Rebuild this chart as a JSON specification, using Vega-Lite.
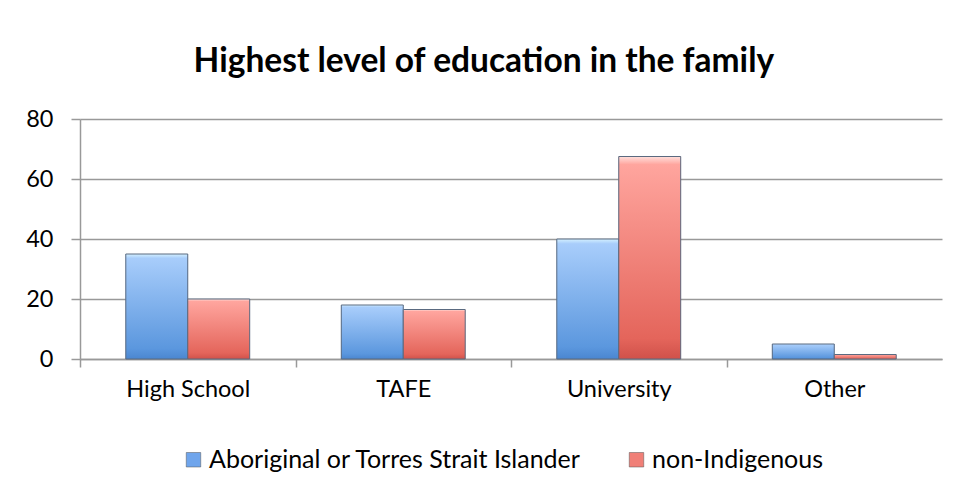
{
  "$schema": "https://vega.github.io/schema/vega-lite/v6.json",
  "width": 862,
  "height": 240,
  "autosize": {"type": "none"},
  "padding": {"left": 80, "top": 119, "right": 22, "bottom": 140},
  "background": "white",
  "title": {
    "text": "Highest level of education in the family",
    "font": "Lato",
    "fontSize": 33.5,
    "fontWeight": "bold",
    "color": "black",
    "anchor": "middle",
    "frame": "bounds",
    "offset": 28
  },
  "config": {
    "view": {"stroke": null},
    "font": "Lato"
  },
  "data": {
    "values": [
      {"level": "High School", "group": "Aboriginal or Torres Strait Islander", "value": 35},
      {"level": "High School", "group": "non-Indigenous", "value": 20},
      {"level": "TAFE", "group": "Aboriginal or Torres Strait Islander", "value": 18},
      {"level": "TAFE", "group": "non-Indigenous", "value": 16.5},
      {"level": "University", "group": "Aboriginal or Torres Strait Islander", "value": 40},
      {"level": "University", "group": "non-Indigenous", "value": 67.5},
      {"level": "Other", "group": "Aboriginal or Torres Strait Islander", "value": 5},
      {"level": "Other", "group": "non-Indigenous", "value": 1.5}
    ]
  },
  "encoding": {
    "x": {
      "field": "level",
      "type": "nominal",
      "sort": ["High School", "TAFE", "University", "Other"],
      "scale": {"paddingInner": 0.425, "paddingOuter": 0.2125},
      "axis": {
        "title": null,
        "labelAngle": 0,
        "labelFont": "Lato",
        "labelFontSize": 23.5,
        "labelColor": "black",
        "labelPadding": 10,
        "domainColor": "#999999",
        "domainWidth": 1.5,
        "tickColor": "#999999",
        "tickWidth": 1.5,
        "tickSize": 8,
        "tickOffset": -107.75,
        "labelOffset": 107.75
      }
    },
    "xOffset": {"field": "group", "type": "nominal"},
    "y": {
      "field": "value",
      "type": "quantitative",
      "scale": {"domain": [0, 80]},
      "axis": {
        "title": null,
        "values": [0, 20, 40, 60, 80],
        "labelFont": "Lato",
        "labelFontSize": 23.5,
        "labelColor": "black",
        "labelPadding": 18,
        "domainColor": "#999999",
        "domainWidth": 1.5,
        "tickColor": "#999999",
        "tickWidth": 1.5,
        "tickSize": 9,
        "gridColor": "#999999",
        "gridWidth": 1.5
      }
    }
  },
  "layer": [
    {
      "mark": {"type": "bar"},
      "encoding": {
        "color": {
          "field": "group",
          "type": "nominal",
          "scale": {"range": ["#6fa5ec", "#f07f77"]},
          "legend": {
            "title": null,
            "orient": "none",
            "direction": "horizontal",
            "legendX": 101,
            "legendY": 328,
            "symbolType": "square",
            "symbolSize": 210,
            "symbolStrokeColor": "#555555",
            "symbolStrokeWidth": 0.5,
            "labelFont": "Lato",
            "labelFontSize": 25,
            "labelColor": "black",
            "labelOffset": 3,
            "columnPadding": 42,
            "labelLimit": 500
          }
        }
      }
    },
    {
      "mark": {"type": "bar", "stroke": "#5a6a80", "strokeWidth": 1},
      "encoding": {
        "fill": {
          "condition": {
            "test": "datum.group === 'Aboriginal or Torres Strait Islander'",
            "value": {
              "gradient": "linear", "x1": 0, "y1": 0, "x2": 0, "y2": 1,
              "stops": [
                {"offset": 0, "color": "#d4f0ff"},
                {"offset": 0.04, "color": "#a8cdfb"},
                {"offset": 0.9, "color": "#5b97de"},
                {"offset": 1, "color": "#4a86d0"}
              ]
            }
          },
          "value": {
            "gradient": "linear", "x1": 0, "y1": 0, "x2": 0, "y2": 1,
            "stops": [
              {"offset": 0, "color": "#ffe0dc"},
              {"offset": 0.04, "color": "#ffa59e"},
              {"offset": 0.9, "color": "#e4655b"},
              {"offset": 1, "color": "#d0514a"}
            ]
          }
        }
      }
    }
  ]
}
